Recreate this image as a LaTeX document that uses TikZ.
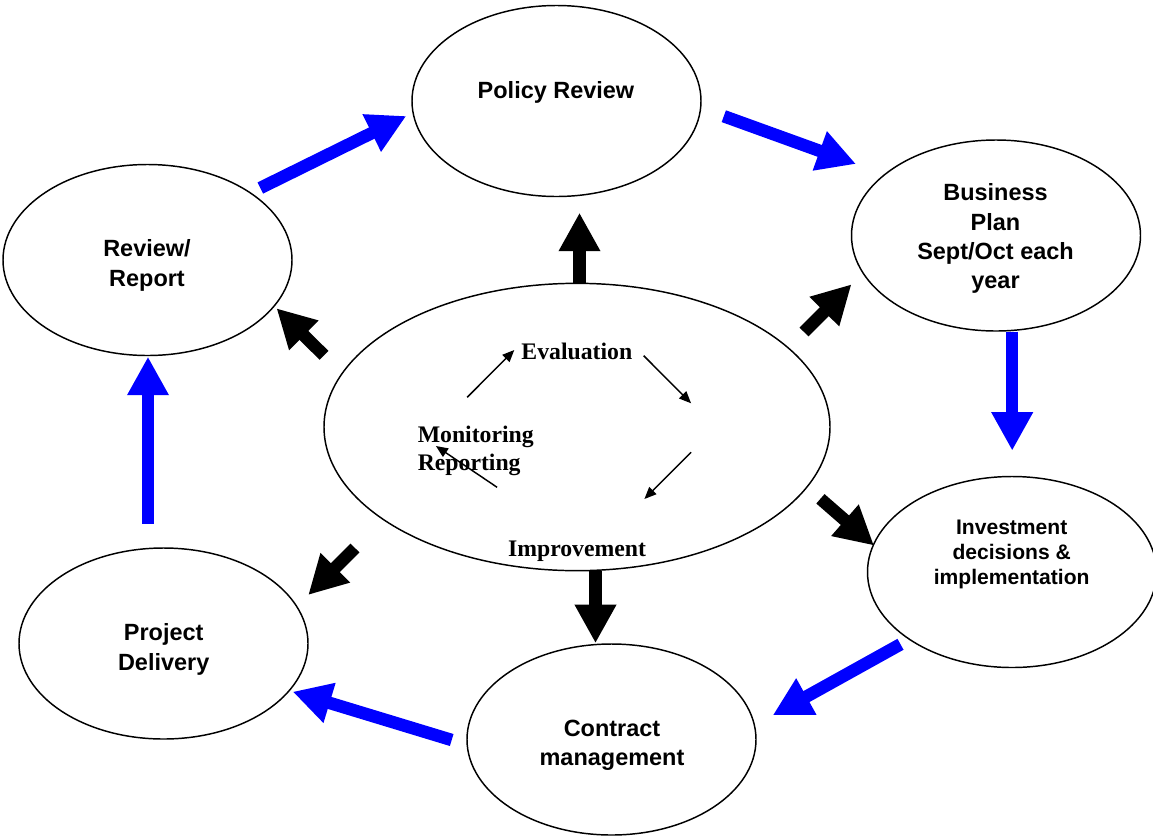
\documentclass[tikz,border=0pt]{standalone}
\usepackage{fontspec}
\setmainfont{Liberation Serif}
\newfontfamily\sansf{Liberation Sans}
\usetikzlibrary{shapes.geometric,arrows.meta}
\definecolor{pureblue}{RGB}{0,0,255}
\begin{document}
\begin{tikzpicture}[x=0.75pt,y=-0.75pt,
  oval/.style={draw=black, line width=1.1pt, ellipse, inner sep=0pt, outer sep=0pt,
    minimum width=216.75pt, minimum height=143.25pt},
  lab/.style={inner sep=0pt, anchor=base, font=\sansf\bfseries\fontsize{17.6}{20}\selectfont},
  smalllab/.style={inner sep=0pt, anchor=base, font=\sansf\bfseries\fontsize{15.8}{18}\selectfont},
  serlab/.style={inner sep=0pt, anchor=base west, font=\bfseries\fontsize{17.8}{20}\selectfont},
  blockarrow/.style={line width=9.4pt, -{Triangle[width=29.3pt,length=28.9pt]}},
  bluearrow/.style={blockarrow, draw=pureblue, fill=pureblue},
  blackarrow/.style={blockarrow, draw=black, fill=black},
  thinarrow/.style={line width=1.1pt, -{Triangle[width=7.5pt,length=9pt]}}
]
\useasboundingbox[fill=white] (0,0) rectangle (1153,836);

% ellipses
\node[oval] (pr) at (556.5,101) {};
\node[oval] (bp) at (996,235.5) {};
\node[oval] (rr) at (147.5,260) {};
\node[oval, minimum width=379.5pt, minimum height=215.5pt] (ce) at (577,427) {};
\node[oval] (inv) at (1012,572) {};
\node[oval] (pd) at (163.5,643.5) {};
\node[oval] (cm) at (611.5,739.5) {};

% texts
\node[lab] (prt) at (556,98) {Policy Review};
\node[lab] (rrt1) at (147,256.7) {Review/};
\node[lab] (rrt2) at (147,286) {Report};
\node[lab] (bpt1) at (995.5,200.7) {Business};
\node[lab] (bpt2) at (995.5,230) {Plan};
\node[lab] (bpt3) at (995.5,259) {Sept/Oct each};
\node[lab] (bpt4) at (995.5,288) {year};
\node[smalllab] (invt1) at (1011.7,534.7) {Investment};
\node[smalllab] (invt2) at (1011.7,559.7) {decisions \&};
\node[smalllab] (invt3) at (1011.7,584.7) {implementation};
\node[lab] (pdt1) at (163.7,640.7) {Project};
\node[lab] (pdt2) at (163.7,670) {Delivery};
\node[lab] (cmt1) at (612,736.3) {Contract};
\node[lab] (cmt2) at (612,765.7) {management};

\node[serlab] (ev) at (521.2,359.3) {Evaluation};
\node[serlab] (mo) at (417.5,442.7) {Monitoring};
\node[serlab] (re) at (417.5,470.7) {Reporting};
\node[serlab] (im) at (507.8,556.7) {Improvement};

% arrow end points
\coordinate (b1s) at (260.3,188);   \coordinate (b1e) at (406.3,116);
\coordinate (b2s) at (723.8,116.2); \coordinate (b2e) at (856,164);
\coordinate (b3s) at (1012.2,331.7);\coordinate (b3e) at (1012.2,450.7);
\coordinate (b4s) at (900.5,644.3); \coordinate (b4e) at (772.7,715.3);
\coordinate (b5s) at (451.7,740);   \coordinate (b5e) at (292.7,691.7);
\coordinate (b6s) at (148,523.7);   \coordinate (b6e) at (148,356.7);

\coordinate (k1s) at (579.5,283.3); \coordinate (k1e) at (579.5,212.7);
\coordinate (k2s) at (804,332);     \coordinate (k2e) at (851.5,284.3);
\coordinate (k3s) at (324,355.3);   \coordinate (k3e) at (276.5,308.3);
\coordinate (k4s) at (820.4,498.8); \coordinate (k4e) at (874,545.5);
\coordinate (k5s) at (355,548);     \coordinate (k5e) at (308.2,595);
\coordinate (k6s) at (595.5,570.7); \coordinate (k6e) at (595.5,643.2);

\coordinate (t1s) at (467.2,397.3); \coordinate (t1e) at (514.3,350);
\coordinate (t2s) at (643.7,355.7); \coordinate (t2e) at (691.1,403.3);
\coordinate (t3s) at (691.1,452.3); \coordinate (t3e) at (644.4,499);
\coordinate (t4s) at (497.1,487.3); \coordinate (t4e) at (435.9,446);

% blue cycle arrows
\draw[bluearrow] (b1s) -- (b1e);
\draw[bluearrow] (b2s) -- (b2e);
\draw[bluearrow] (b3s) -- (b3e);
\draw[bluearrow] (b4s) -- (b4e);
\draw[bluearrow] (b5s) -- (b5e);
\draw[bluearrow] (b6s) -- (b6e);

% black radial arrows
\draw[blackarrow] (k1s) -- (k1e);
\draw[blackarrow] (k2s) -- (k2e);
\draw[blackarrow] (k3s) -- (k3e);
\draw[blackarrow] (k4s) -- (k4e);
\draw[blackarrow] (k5s) -- (k5e);
\draw[blackarrow] (k6s) -- (k6e);

% inner cycle arrows
\draw[thinarrow] (t1s) -- (t1e);
\draw[thinarrow] (t2s) -- (t2e);
\draw[thinarrow] (t3s) -- (t3e);
\draw[thinarrow] (t4s) -- (t4e);
\end{tikzpicture}
\end{document}
